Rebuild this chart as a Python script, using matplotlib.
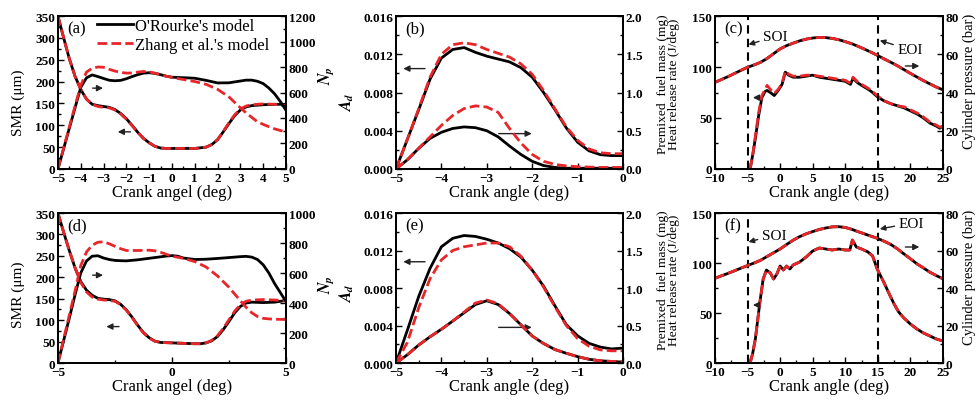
import numpy as np
import matplotlib
matplotlib.use("Agg")
import matplotlib.pyplot as plt
from matplotlib.lines import Line2D
from matplotlib.ticker import MultipleLocator

plt.rcParams['font.family'] = ['Liberation Serif', 'DejaVu Serif']
plt.rcParams['font.weight'] = 'bold'   # tick labels come out bold
plt.rcParams['mathtext.fontset'] = 'stix'

BLACK = 'black'
RED = '#e8262a'

# ---------------- (a) SMR / Np, case 1 ----------------
a_x = [-5, -4.75, -4.5, -4.25, -4.0, -3.75, -3.5, -3.25, -3.0, -2.75, -2.5, -2.25, -2.0,
       -1.75, -1.5, -1.25, -1.0, -0.75, -0.5, -0.25, 0, 0.5, 1.0, 1.5, 1.75, 2.0, 2.25,
       2.5, 2.75, 3.0, 3.25, 3.5, 4.0, 4.5, 5.0]
a_smr_orourke = [350, 300, 252, 212, 182, 160, 148, 145, 143, 141, 136, 127, 115,
                 100, 84, 70, 60, 52, 48, 47, 47, 47, 47, 50, 56, 67, 85,
                 104, 122, 135, 142, 145, 147, 148, 148]
a_smr_zhang = [350, 300, 252, 212, 182, 160, 148, 143, 141, 140, 135, 126, 114,
               99, 84, 70, 60, 52, 48, 47, 47, 47, 47, 50, 56, 67, 86,
               106, 124, 137, 144, 147, 149, 148, 145]
a_np_x = [-5, -4.75, -4.5, -4.25, -4.0, -3.75, -3.5, -3.25, -3.0, -2.75, -2.5, -2.25, -2.0,
          -1.75, -1.5, -1.25, -1.0, -0.75, -0.5, -0.25, 0, 0.5, 1.0, 1.5, 2.0, 2.5, 3.0,
          3.25, 3.5, 3.75, 4.0, 4.25, 4.5, 4.75, 5.0]
a_np_orourke = [0, 160, 320, 480, 640, 715, 738, 725, 710, 696, 692, 695, 708,
                725, 740, 752, 755, 750, 740, 728, 720, 716, 712, 695, 675, 676, 690,
                697, 697, 688, 670, 635, 590, 530, 460]
a_np_zhang = [0, 165, 330, 495, 655, 760, 790, 800, 798, 782, 768, 758, 752,
              753, 760, 765, 762, 752, 740, 728, 718, 702, 686, 664, 625, 565, 480,
              440, 405, 370, 350, 332, 315, 302, 292]

# ---------------- (d) SMR / Np, case 2 ----------------
d_x = [-5, -4.75, -4.5, -4.25, -4.0, -3.75, -3.5, -3.25, -3.0, -2.75, -2.5, -2.25, -2.0,
       -1.75, -1.5, -1.25, -1.0, -0.75, -0.5, 0, 0.5, 1.0, 1.25, 1.5, 1.75, 2.0, 2.25,
       2.5, 2.75, 3.0, 3.25, 3.5, 4.0, 4.5, 5.0]
d_smr_orourke = [350, 305, 262, 222, 190, 170, 158, 151, 149, 148, 145, 137, 124,
                 107, 88, 71, 59, 51, 48, 47, 46, 45, 45, 47, 52, 62, 78,
                 97, 117, 132, 140, 142, 141, 142, 146]
d_smr_zhang = [350, 305, 262, 222, 188, 166, 154, 149, 147, 146, 144, 136, 123,
               106, 87, 70, 58, 51, 48, 47, 46, 45, 45, 47, 53, 64, 81,
               101, 121, 136, 144, 147, 148, 147, 145]
d_np_x = [-5, -4.75, -4.5, -4.25, -4.0, -3.75, -3.5, -3.25, -3.0, -2.75, -2.5, -2.25, -2.0,
          -1.5, -1.0, -0.75, -0.5, -0.25, 0, 0.25, 0.5, 1.0, 1.5, 2.0, 2.5, 3.0, 3.25,
          3.5, 3.75, 4.0, 4.25, 4.5, 4.75, 5.0]
d_np_orourke = [0, 150, 300, 455, 600, 680, 712, 715, 700, 690, 684, 682, 681,
                688, 698, 703, 708, 713, 716, 712, 700, 690, 692, 697, 703, 709, 711,
                706, 690, 655, 600, 530, 470, 410]
d_np_zhang = [0, 160, 320, 480, 650, 740, 785, 805, 808, 795, 778, 762, 750,
              750, 752, 748, 738, 725, 712, 705, 698, 676, 640, 580, 505, 415, 372,
              335, 310, 298, 294, 292, 291, 290]

# ---------------- (b) Ad / premixed fuel mass, case 1 ----------------
b_x = [-5, -4.75, -4.5, -4.25, -4.0, -3.75, -3.5, -3.25, -3.0, -2.75, -2.5, -2.25, -2.0,
       -1.75, -1.5, -1.25, -1.0, -0.75, -0.5, -0.25, 0]
b_ad_orourke = [0, 0.0031, 0.0062, 0.0094, 0.0116, 0.0125, 0.0127, 0.0122, 0.0118, 0.0115,
                0.0112, 0.0106, 0.0096, 0.0080, 0.0062, 0.0043, 0.0028, 0.0019, 0.0015,
                0.0014, 0.0014]
b_ad_zhang = [0, 0.0031, 0.0063, 0.0096, 0.0120, 0.0130, 0.0132, 0.0130, 0.0125, 0.0121,
              0.0117, 0.0110, 0.0099, 0.0082, 0.0063, 0.0044, 0.0030, 0.0021, 0.0017,
              0.0016, 0.0016]
b_mass_orourke = [0, 0.12, 0.27, 0.40, 0.48, 0.53, 0.55, 0.54, 0.50, 0.42, 0.30, 0.19, 0.10,
                  0.045, 0.02, 0.01, 0.01, 0.01, 0.01, 0.01, 0.01]
b_mass_zhang = [0, 0.12, 0.27, 0.42, 0.57, 0.70, 0.79, 0.825, 0.81, 0.74, 0.53, 0.34, 0.19,
                0.10, 0.06, 0.04, 0.03, 0.025, 0.02, 0.02, 0.02]

# ---------------- (e) Ad / premixed fuel mass, case 2 ----------------
e_x = b_x
e_ad_orourke = [0, 0.0035, 0.0071, 0.0101, 0.0124, 0.0133, 0.0136, 0.0135, 0.0132, 0.0128,
                0.0122, 0.0113, 0.0099, 0.0082, 0.0061, 0.0041, 0.0029, 0.0021, 0.0017,
                0.0015, 0.0016]
e_ad_zhang = [0, 0.0022, 0.0059, 0.0090, 0.0110, 0.0120, 0.0124, 0.0126, 0.0128, 0.0128,
              0.0124, 0.0114, 0.0099, 0.0081, 0.0060, 0.0040, 0.0026, 0.0018, 0.0014,
              0.0013, 0.0013]
e_mass_orourke = [0, 0.11, 0.24, 0.35, 0.45, 0.56, 0.67, 0.78, 0.83, 0.78, 0.66, 0.51, 0.36,
                  0.26, 0.18, 0.13, 0.085, 0.05, 0.03, 0.02, 0.013]
e_mass_zhang = [0, 0.11, 0.24, 0.35, 0.45, 0.56, 0.68, 0.80, 0.84, 0.79, 0.66, 0.51, 0.36,
                0.26, 0.18, 0.13, 0.085, 0.05, 0.03, 0.022, 0.02]

# ---------------- (c) HRR / cylinder pressure, case 1 ----------------
c_p_x = [-10, -8, -6, -5, -4, -3, -2, -1, 0, 1, 2, 3, 4, 5, 6, 7, 8, 9, 10, 11, 12, 13, 14,
         15, 16, 17, 18, 20, 22, 24, 25]
c_pressure = [45.3, 48.3, 51.6, 53.2, 54.4, 55.8, 57.8, 60.3, 62.8, 64.5, 65.8, 67.0, 67.9,
              68.5, 68.8, 68.7, 68.3, 67.6, 66.6, 65.5, 64.1, 62.6, 61.0, 59.3, 57.5, 55.8,
              54.0, 50.0, 46.2, 42.8, 41.4]
c_hrr_x = [-4.6, -4.2, -3.8, -3.3, -2.8, -2.3, -2.0, -1.5, -0.9, -0.3, 0.3, 0.8, 1.3, 2.0, 3.0,
           4.0, 5.0, 6.0, 7.0, 8.0, 9.0, 10.0, 10.8, 11.2, 11.8, 12.5, 13.3, 14.0, 14.9, 15.9,
           17.0, 18.0, 19.0, 20.0, 21.0, 22.0, 23.0, 24.0, 24.5, 25.0]
c_hrr_orourke = [0, 14, 30, 52, 70, 76, 77, 75, 72, 77, 83, 95, 92, 90, 90, 91, 92, 90, 89, 88,
                 87, 86, 83, 89, 85, 82, 79, 76, 71, 67, 64, 62, 60, 57, 54, 50, 45, 42, 40, 42]
c_hrr_zhang = [0, 14, 32, 55, 72, 78, 82, 78, 74, 78, 84, 96, 93, 91, 91, 92, 92, 91, 90, 89,
               88, 87, 84, 90, 86, 83, 80, 77, 72, 67, 64, 62, 61, 58, 55, 51, 46, 43, 41, 42]

# ---------------- (f) HRR / cylinder pressure, case 2 ----------------
f_p_x = [-10, -8, -6, -5, -4, -3, -2, -1, 0, 1, 2, 3, 4, 5, 6, 7, 8, 9, 10, 11, 12, 13, 14,
         15, 16, 17, 18, 19, 20, 21, 22, 23, 24, 25]
f_pressure = [45.2, 47.8, 50.6, 52.0, 53.3, 54.8, 56.8, 58.8, 60.8, 63.2, 65.5, 67.4, 68.9,
              70.1, 71.2, 72.0, 72.6, 72.7, 72.3, 71.3, 70.0, 68.8, 67.6, 66.4, 64.9, 63.2,
              60.9, 58.2, 55.6, 52.9, 50.7, 48.4, 46.6, 44.9]
f_hrr_x = [-4.6, -4.2, -3.8, -3.1, -2.6, -2.1, -1.5, -1.0, -0.5, 0.0, 0.5, 1.0, 1.5, 2.0, 3.0,
           4.0, 5.0, 6.0, 7.0, 8.0, 9.0, 10.0, 10.7, 11.1, 11.7, 12.5, 13.5, 14.2, 14.9, 15.9,
           16.9, 17.5, 18.2, 19.0, 20.0, 21.0, 22.0, 23.0, 24.0, 25.0]
f_hrr_orourke = [0, 10, 24, 61, 84, 93, 90, 84, 89, 97, 93, 97, 94, 98, 101, 106, 112, 115, 114,
                 113, 114, 113, 113, 123, 116, 114, 111, 107, 94, 81, 67, 59, 51, 45, 39, 34,
                 30, 27, 24, 22]
f_hrr_zhang = f_hrr_orourke

soi, eoi = -5, 15

fig = plt.figure(figsize=(9.79, 4.06), dpi=100)
lefts = [0.0592, 0.4045, 0.7303]
widths = [0.2329, 0.2319, 0.2329]
bottoms = [0.5813, 0.1034]
heights = [0.3768, 0.3695]


def make_axes(col, row):
    ax = fig.add_axes([lefts[col], bottoms[row], widths[col], heights[row]])
    tw = ax.twinx()
    for a in (ax, tw):
        a.tick_params(which='both', direction='in', width=1, labelsize=9.5, pad=2)
        a.tick_params(which='major', length=4)
        a.tick_params(which='minor', length=2)
        for s in a.spines.values():
            s.set_linewidth(1.3)
    return ax, tw


def ylab(axis, text, x, y, size=9.5):
    # place a y label by its baseline, in axes fraction
    axis.set_label_text(text, fontsize=size, fontweight='normal')
    axis.set_label_coords(x, y)
    axis.label.set_verticalalignment('baseline')


def xlab(ax, text):
    ax.set_xlabel(text, fontsize=12, fontweight='normal', labelpad=0)


def pair(ax, x, y1, y2):
    ax.plot(x, y1, color=BLACK, lw=2)
    ax.plot(x, y2, color=RED, lw=2, dashes=(3.5, 1.5))


def arrow(ax, x0, x1, y):
    ax.annotate('', xy=(x1, y), xytext=(x0, y),
                arrowprops=dict(arrowstyle='-|>', color='#222222', lw=1, mutation_scale=9))


def tag(ax, s):
    ax.text(0.04, 0.89, s, transform=ax.transAxes, fontsize=12, fontweight='normal')


# SMR panels
for row, (x, s1, s2, nx, n1, n2, nmax, xmaj, name, smry, npy) in enumerate([
        (a_x, a_smr_orourke, a_smr_zhang, a_np_x, a_np_orourke, a_np_zhang, 1200, 1, '(a)',
         0.44, 0.62),
        (d_x, d_smr_orourke, d_smr_zhang, d_np_x, d_np_orourke, d_np_zhang, 1000, 5, '(d)',
         0.46, 0.53)]):
    ax, tw = make_axes(0, row)
    pair(ax, x, s1, s2)
    pair(tw, nx, n1, n2)
    ax.set_xlim(-5, 5)
    ax.set_ylim(0, 350)
    tw.set_ylim(0, nmax)
    ax.xaxis.set_major_locator(MultipleLocator(xmaj))
    ax.xaxis.set_minor_locator(MultipleLocator(0.5 if xmaj == 1 else 2.5))
    ax.yaxis.set_major_locator(MultipleLocator(50))
    ax.yaxis.set_minor_locator(MultipleLocator(25))
    tw.yaxis.set_major_locator(MultipleLocator(200))
    tw.yaxis.set_minor_locator(MultipleLocator(100))
    ylab(ax.yaxis, 'SMR (μm)', -0.16, smry, 11)
    ylab(tw.yaxis, '$N_p$', 1.193, npy, 11.5)
    xlab(ax, 'Crank angel (deg)')
    tag(ax, name)
    if row == 0:
        arrow(ax, -3.6, -2.9, 185)
        arrow(ax, -1.7, -2.5, 85)
        handles = [Line2D([], [], color=BLACK, lw=2),
                   Line2D([], [], color=RED, lw=2, dashes=(3.5, 1.5))]
        tw.legend(handles, ["O'Rourke's model", "Zhang et al.'s model"], loc='upper left',
                  bbox_to_anchor=(0.171, 0.99), frameon=False, borderpad=0, borderaxespad=0,
                  prop=dict(family='Liberation Serif', size=12, weight='normal'),
                  handlelength=2.15, handletextpad=0.15, labelspacing=0.2)
    else:
        arrow(ax, -3.6, -2.9, 205)
        arrow(ax, -2.2, -3.0, 85)

# Ad panels
for row, (x, a1, a2, m1, m2, name, yl, yr, ady) in enumerate([
        (b_x, b_ad_orourke, b_ad_zhang, b_mass_orourke, b_mass_zhang, '(b)', 0.0105, 0.0037, 0.44),
        (e_x, e_ad_orourke, e_ad_zhang, e_mass_orourke, e_mass_zhang, '(e)', 0.0108, 0.0038, 0.47)]):
    ax, tw = make_axes(1, row)
    pair(ax, x, a1, a2)
    pair(tw, x, m1, m2)
    ax.set_xlim(-5, 0)
    ax.set_ylim(0, 0.016)
    tw.set_ylim(0, 2.0)
    ax.xaxis.set_major_locator(MultipleLocator(1))
    ax.xaxis.set_minor_locator(MultipleLocator(0.5))
    ax.yaxis.set_major_locator(MultipleLocator(0.004))
    ax.yaxis.set_minor_locator(MultipleLocator(0.002))
    ax.yaxis.set_major_formatter(plt.FormatStrFormatter('%.3f'))
    tw.yaxis.set_major_locator(MultipleLocator(0.5))
    tw.yaxis.set_minor_locator(MultipleLocator(0.25))
    tw.yaxis.set_major_formatter(plt.FormatStrFormatter('%.1f'))
    ylab(ax.yaxis, '$A_d$', -0.194, ady, 11.5)
    ylab(tw.yaxis, 'Premixed  fuel mass (mg)', 1.189, 0.56, 9.7)
    xlab(ax, 'Crank angle (deg)')
    tag(ax, name)
    arrow(ax, -4.3, -4.9, yl)
    arrow(ax, -2.8, -1.95, yr)

# HRR / pressure panels
for row, (px, p, hx, h1, h2, name, soi_txt, soi_tip, eoi_txt, eoi_tip, la, ra) in enumerate([
        (c_p_x, c_pressure, c_hrr_x, c_hrr_orourke, c_hrr_zhang, '(c)',
         (-2.6, 130), (-4.85, 122), (18.0, 117), (15.3, 126), 70, 101),
        (f_p_x, f_pressure, f_hrr_x, f_hrr_orourke, f_hrr_zhang, '(f)',
         (-2.8, 128), (-4.85, 121), (18.2, 140), (15.3, 134), 58, 116)]):
    ax, tw = make_axes(2, row)
    pair(ax, hx, h1, h2)
    pair(tw, px, p, p)
    ax.set_xlim(-10, 25)
    ax.set_ylim(0, 150)
    tw.set_ylim(0, 80)
    ax.xaxis.set_major_locator(MultipleLocator(5))
    ax.xaxis.set_minor_locator(MultipleLocator(2.5))
    ax.yaxis.set_major_locator(MultipleLocator(50))
    ax.yaxis.set_minor_locator(MultipleLocator(25))
    tw.yaxis.set_major_locator(MultipleLocator(20))
    tw.yaxis.set_minor_locator(MultipleLocator(10))
    for v in (soi, eoi):
        ax.axvline(v, color=BLACK, lw=1.5, dashes=(4, 2.5))
    ylab(ax.yaxis, 'Heat release rate (J/deg)', -0.167, 0.56, 9.7)
    ylab(tw.yaxis, 'Cylinder pressure (bar)', 1.129, 0.58, 10.5)
    xlab(ax, 'Crank angle (deg)')
    tag(ax, name)
    for txt, tip, pos in (('SOI', soi_tip, soi_txt), ('EOI', eoi_tip, eoi_txt)):
        ax.annotate(txt, xy=tip, xytext=pos, fontsize=11, fontweight='normal', va='center',
                    arrowprops=dict(arrowstyle='-|>', color='#222222', lw=1,
                                    mutation_scale=8, shrinkA=1, shrinkB=0))
    arrow(ax, -3.0, -4.6, la)
    arrow(ax, 18.8, 21.8, ra)

fig.savefig('out.png', dpi=100)
